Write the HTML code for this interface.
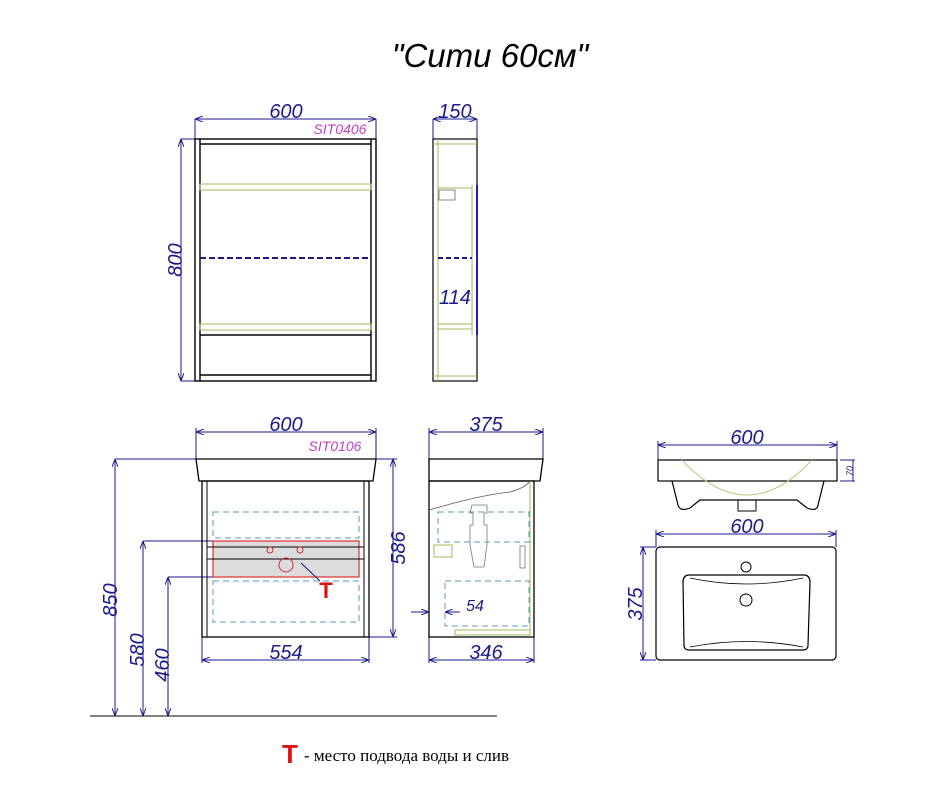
<!DOCTYPE html>
<html><head><meta charset="utf-8"><style>body{margin:0;background:#fff}svg{display:block}</style></head><body>
<svg width="948" height="792" viewBox="0 0 948 792" xmlns="http://www.w3.org/2000/svg" font-family="Liberation Sans, sans-serif">
<defs><marker id="a" markerWidth="8" markerHeight="6" refX="8" refY="3" orient="auto-start-reverse"><path d="M0,0L8,3L0,6" fill="none" stroke="#1a1a8c" stroke-width="1"/></marker></defs>
<text x="490" y="67" font-size="33" font-style="italic" text-anchor="middle" fill="#000">"Сити 60см"</text>
<g stroke="#1a1a8c" stroke-width="1" fill="none">
<line x1="195" y1="119" x2="376" y2="119" marker-start="url(#a)" marker-end="url(#a)"/>
<line x1="195" y1="119" x2="195" y2="139"/><line x1="376" y1="119" x2="376" y2="139"/>
<line x1="181" y1="139" x2="181" y2="381" marker-start="url(#a)" marker-end="url(#a)"/>
<line x1="181" y1="139" x2="195" y2="139"/><line x1="181" y1="381" x2="195" y2="381"/>
<line x1="433" y1="119" x2="477" y2="119" marker-start="url(#a)" marker-end="url(#a)"/>
<line x1="433" y1="119" x2="433" y2="139"/><line x1="477" y1="119" x2="477" y2="139"/>
<line x1="196" y1="432" x2="376" y2="432" marker-start="url(#a)" marker-end="url(#a)"/>
<line x1="196" y1="428" x2="196" y2="459"/><line x1="376" y1="428" x2="376" y2="459"/>
<line x1="393" y1="459" x2="393" y2="637" marker-start="url(#a)" marker-end="url(#a)"/>
<line x1="376" y1="459" x2="397" y2="459"/><line x1="369" y1="637" x2="397" y2="637"/>
<line x1="202" y1="660" x2="369" y2="660" marker-start="url(#a)" marker-end="url(#a)"/>
<line x1="202" y1="637" x2="202" y2="663"/><line x1="369" y1="637" x2="369" y2="663"/>
<line x1="115" y1="459" x2="115" y2="716" marker-start="url(#a)" marker-end="url(#a)"/>
<line x1="115" y1="459" x2="196" y2="459"/>
<line x1="143" y1="541" x2="143" y2="716" marker-start="url(#a)" marker-end="url(#a)"/>
<line x1="143" y1="541" x2="213" y2="541"/>
<line x1="168" y1="577" x2="168" y2="716" marker-start="url(#a)" marker-end="url(#a)"/>
<line x1="168" y1="577" x2="213" y2="577"/>
<line x1="429" y1="432" x2="543" y2="432" marker-start="url(#a)" marker-end="url(#a)"/>
<line x1="429" y1="428" x2="429" y2="459"/><line x1="543" y1="428" x2="543" y2="459"/>
<line x1="429" y1="660" x2="534" y2="660" marker-start="url(#a)" marker-end="url(#a)"/>
<line x1="429" y1="637" x2="429" y2="663"/><line x1="534" y1="637" x2="534" y2="663"/>
<line x1="411" y1="612" x2="429" y2="612" marker-end="url(#a)"/>
<line x1="445" y1="612" x2="460" y2="612"/><line x1="445" y1="612" x2="449" y2="612" marker-start="url(#a)"/>
<line x1="658" y1="445" x2="837" y2="445" marker-start="url(#a)" marker-end="url(#a)"/>
<line x1="658" y1="441" x2="658" y2="460"/><line x1="837" y1="441" x2="837" y2="460"/>
<line x1="840" y1="460" x2="855" y2="460"/><line x1="840" y1="481" x2="855" y2="481"/>
<line x1="853" y1="460" x2="853" y2="481"/>
<line x1="656" y1="534" x2="836" y2="534" marker-start="url(#a)" marker-end="url(#a)"/>
<line x1="656" y1="530" x2="656" y2="547"/><line x1="836" y1="530" x2="836" y2="547"/>
<line x1="643" y1="547" x2="643" y2="660" marker-start="url(#a)" marker-end="url(#a)"/>
<line x1="640" y1="547" x2="656" y2="547"/><line x1="640" y1="660" x2="656" y2="660"/>
</g>
<line x1="90" y1="716" x2="497" y2="716" stroke="#000" stroke-width="1"/>
<g fill="#1a1a8c" font-size="20" font-style="italic" text-anchor="middle">
<text x="286" y="118">600</text><text x="455" y="118">150</text>
<text x="455" y="304">114</text>
<text transform="translate(182,260) rotate(-90)">800</text>
<text x="286" y="431">600</text><text x="486" y="431">375</text>
<text transform="translate(405,548) rotate(-90)">586</text>
<text x="286" y="659">554</text><text x="486" y="659">346</text>
<text transform="translate(117,600) rotate(-90)">850</text>
<text transform="translate(144,650) rotate(-90)">580</text>
<text transform="translate(169,665) rotate(-90)">460</text>
<text x="747" y="444">600</text><text x="747" y="533">600</text>
<text transform="translate(642,604) rotate(-90)">375</text>
<text x="475" y="611" font-size="16">54</text>
<text transform="translate(853,471) rotate(-90)" font-size="9">70</text>
</g>
<text x="340" y="134" font-size="14" font-style="italic" fill="#c040c0" text-anchor="middle">SIT0406</text>
<text x="335" y="451" font-size="14" font-style="italic" fill="#c040c0" text-anchor="middle">SIT0106</text>
<g stroke="#000" fill="none" stroke-width="1.4">
<rect x="195" y="139" width="181" height="242"/>
<line x1="200" y1="139" x2="200" y2="381"/><line x1="371" y1="139" x2="371" y2="381"/>
<line x1="200" y1="144" x2="371" y2="144"/><line x1="200" y1="375" x2="371" y2="375"/>
<line x1="200" y1="335" x2="371" y2="335"/>
</g>
<g stroke="#9bbb59" fill="none"><rect x="200" y="184" width="171" height="6"/><rect x="200" y="324" width="171" height="6"/></g>
<line x1="200" y1="258" x2="371" y2="258" stroke="#1a1a8c" stroke-width="2" stroke-dasharray="6,3"/>
<rect x="433" y="139" width="44" height="242" fill="none" stroke="#000" stroke-width="1.2"/>
<g stroke="#9bbb59" fill="none"><line x1="438" y1="139" x2="438" y2="381"/><line x1="433" y1="144" x2="477" y2="144"/><line x1="433" y1="376" x2="477" y2="376"/><line x1="438" y1="188" x2="472" y2="188"/><line x1="472" y1="185" x2="472" y2="335"/><rect x="438" y="324" width="34" height="5"/></g>
<rect x="439" y="190" width="16" height="10" fill="none" stroke="#555" stroke-width=".7"/>
<line x1="477" y1="185" x2="477" y2="335" stroke="#2020c0" stroke-width="2"/>
<line x1="438" y1="258" x2="472" y2="258" stroke="#1a1a8c" stroke-width="2" stroke-dasharray="5,3"/>
<path d="M196,459 L376,459 L373,481 L199,481 Z" fill="#fff" stroke="#000" stroke-width="1.3"/>
<rect x="202" y="481" width="167" height="156" fill="none" stroke="#000" stroke-width="1.3"/>
<line x1="207" y1="481" x2="207" y2="637" stroke="#000"/><line x1="364" y1="481" x2="364" y2="637" stroke="#000"/>
<rect x="213" y="541" width="146" height="36" fill="#dcdcdc" stroke="#e03030" stroke-width="1.2"/>
<line x1="207" y1="547" x2="364" y2="547" stroke="#000"/><line x1="207" y1="559" x2="364" y2="559" stroke="#000"/>
<g fill="none" stroke="#5a9ab8" stroke-dasharray="6,4"><rect x="213" y="512" width="146" height="26"/><rect x="213" y="581" width="146" height="41"/><rect x="438" y="512" width="91" height="30"/><rect x="445" y="581" width="84" height="45"/></g>
<g fill="none" stroke="#d03030"><circle cx="270" cy="550" r="3"/><circle cx="300" cy="550" r="3"/><circle cx="286" cy="565" r="7"/></g>
<line x1="301" y1="563" x2="320" y2="581" stroke="#1a1a8c"/>
<text x="326" y="598" font-size="22" font-weight="bold" fill="#e01010" text-anchor="middle">T</text>
<path d="M429,459 L543,459 L540,481 L429,481 Z" fill="#fff" stroke="#000" stroke-width="1.3"/>
<rect x="429" y="481" width="105" height="156" fill="none" stroke="#000" stroke-width="1.3"/>
<path d="M429,510 Q480,495 510,492 Q525,488 530,481" fill="none" stroke="#555" stroke-width=".8"/>
<g stroke="#9bbb59" fill="none"><line x1="530" y1="481" x2="530" y2="635"/><rect x="455" y="630" width="75" height="5"/><rect x="434" y="545" width="18" height="12"/></g>
<path d="M472,505 h15 v8 h-3 v12 h3 v20 l-3,22 h-10 l-4,-22 v-20 h3 v-12 h-3 z" fill="none" stroke="#777" stroke-width=".8"/>
<rect x="520" y="546" width="5" height="22" fill="none" stroke="#777" stroke-width=".8"/>
<rect x="658" y="460" width="179" height="21" fill="none" stroke="#000" stroke-width="1.2"/>
<path d="M672,481 L678,505 Q680,512 690,508 L700,500 L797,500 L807,508 Q817,512 818,505 L824,481" fill="none" stroke="#000" stroke-width="1.2"/>
<rect x="738" y="500" width="18" height="11" fill="none" stroke="#000"/>
<path d="M682,460 Q747,530 812,460" fill="none" stroke="#c8c080" stroke-width="1"/>
<rect x="656" y="547" width="180" height="113" rx="4" fill="none" stroke="#000" stroke-width="1.2"/>
<path d="M688,575 L805,575 Q810,576 810,582 L808,645 Q808,650 803,650 L689,650 Q684,650 684,645 L683,582 Q683,576 688,575 Z" fill="none" stroke="#000" stroke-width="1.2"/>
<path d="M690,578 Q746,590 803,578 M690,647 Q746,636 803,647" fill="none" stroke="#000" stroke-width=".8"/>
<circle cx="746" cy="567" r="5" fill="none" stroke="#000"/><circle cx="746" cy="600" r="6" fill="none" stroke="#000"/>
<text x="290" y="763" font-size="26" font-weight="bold" fill="#e01010" text-anchor="middle">T</text>
<text x="304" y="761" font-size="17" font-family="Liberation Serif, serif" fill="#000">- место подвода воды и слив</text>
</svg>
</body></html>
